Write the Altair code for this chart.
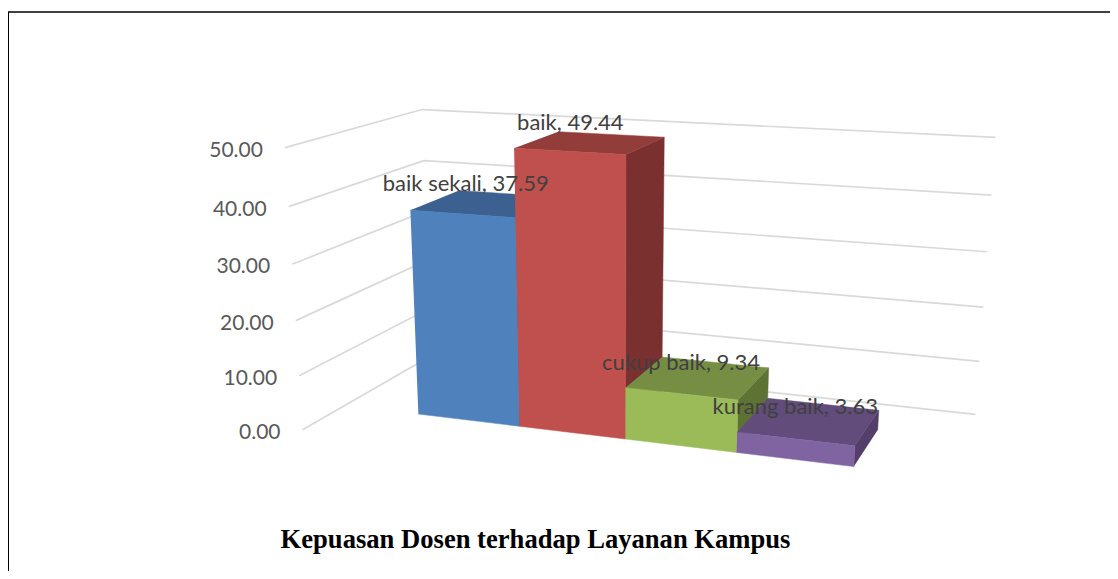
import numpy as np
import pandas as pd
import altair as alt

categories = ["baik sekali", "baik", "cukup baik", "kurang baik"]
values = [37.59, 49.44, 9.34, 3.63]
ticks = [0, 10, 20, 30, 40, 50]
tick_labels = ["0.00", "10.00", "20.00", "30.00", "40.00", "50.00"]
front = ["#4F81BD", "#C0504D", "#9BBB59", "#8064A2"]
top = ["#3C6190", "#933D3B", "#768E44", "#614C7B"]
side = ["#2F4C71", "#7B3030", "#5E7233", "#533F6A"]
title = "Kepuasan Dosen terhadap Layanan Kampus"

# calibration of the 3-D view: (category edge, value, depth) -> picture position
cal3d = [(0,0,0),(1,0,0),(2,0,0),(3,0,0),(4,0,0),(0,37.59,0),(1,49.44,0),(2,49.44,0),
         (2,9.34,0),(3,9.34,0),(3,3.63,0),(4,3.63,0),(0,37.59,1),(1,49.44,1),(2,49.44,1),
         (3,9.34,1),(4,3.63,1),(4,0,1)]
cal2d = [(418.7,414),(519.3,426.3),(625.3,439),(737,452.7),(853.7,467),(411.5,209),(514.3,148.3),(625,154),
         (625.3,387),(737.7,401),(737.3,433),(854.3,446),(456.7,191.7),(560,131.7),(664.3,137.7),
         (769,367.3),(878.7,410.7),(878,428.3)]

A = []; b = []
for (c, v, d), (x, y) in zip(cal3d, cal2d):
    A.append([c, v, d, 1, 0, 0, 0, 0, -x*c, -x*v, -x*d]); b.append(x)
    A.append([0, 0, 0, 0, c, v, d, 1, -y*c, -y*v, -y*d]); b.append(y)
sol = np.linalg.lstsq(np.array(A, float), np.array(b, float), rcond=None)[0]
P = np.append(sol, 1.0).reshape(3, 4)

def project(c, v, d):
    r = P @ np.array([c, v, d, 1.0])
    return float(r[0] / r[2]), float(r[1] / r[2])

def invert(x, y, v):
    M = np.array([[P[0,0]-x*P[2,0], P[0,2]-x*P[2,2]], [P[1,0]-y*P[2,0], P[1,2]-y*P[2,2]]])
    r = -np.array([P[0,1]*v+P[0,3]-x*(P[2,1]*v+P[2,3]), P[1,1]*v+P[1,3]-y*(P[2,1]*v+P[2,3])])
    return np.linalg.solve(M, r)

fl = [invert(302,431,0), invert(285.5,147,50)]
bl = [invert(429,357,0), invert(424,109,50)]
br = [invert(977,413,0), invert(994,138,50)]
c_lf = float(np.mean([p[0] for p in fl]))
c_lb = float(np.mean([p[0] for p in bl]))
c_r = float(np.mean([p[0] for p in br]))
d_f = float(np.mean([p[1] for p in fl]))
d_bl = float(np.mean([p[1] for p in bl]))
d_br = float(np.mean([p[1] for p in br]))

X = alt.X("x:Q", scale=alt.Scale(domain=[12, 1110], range=[0, 1098]), axis=None)
Y = alt.Y("y:Q", scale=alt.Scale(domain=[571, 12], range=[559, 0]), axis=None)

def poly(pts, color):
    df = pd.DataFrame([{"x": p[0], "y": p[1], "i": i} for i, p in enumerate(pts)])
    return alt.Chart(df).mark_line(fill=color, stroke=color, strokeWidth=0.5, clip=False).encode(
        x=X, y=Y, order=alt.Order("i:Q"))

layers = []
grid_rows = []
for t in ticks:
    for i, p in enumerate([(c_lf, t, d_f), (c_lb, t, d_bl), (c_r, t, d_br)]):
        x, y = project(*p)
        grid_rows.append({"x": x, "y": y, "i": i, "t": t})
layers.append(alt.Chart(pd.DataFrame(grid_rows)).mark_line(color="#D9D9D9", strokeWidth=1.7).encode(
    x=X, y=Y, detail="t:N", order=alt.Order("i:Q")))

for k, v in enumerate(values):
    l, r = k, k + 1
    layers.append(poly([project(r,0,0), project(r,v,0), project(r,v,1), project(r,0,1)], side[k]))
    layers.append(poly([project(l,v,0), project(r,v,0), project(r,v,1), project(l,v,1)], top[k]))
    layers.append(poly([project(l,0,0), project(r,0,0), project(r,v,0), project(l,v,0)], front[k]))

nudge = [(3.5, -30), (1, -28.5), (0, -31), (0, -32)]
lab = pd.DataFrame([{"x": project(k+0.5, v, 0)[0] + nudge[k][0], "y": project(k+0.5, v, 0)[1] + nudge[k][1],
                     "t": f"{categories[k]}, {v:.2f}"} for k, v in enumerate(values)])
layers.append(alt.Chart(lab).mark_text(font="Lato", fontSize=22, color="#404040", align="center", baseline="middle").encode(
    x=X, y=Y, text="t:N"))

tk = pd.DataFrame([{"x": project(c_lf, t, d_f)[0] - 22, "y": project(c_lf, t, d_f)[1] + 3, "t": s}
                   for t, s in zip(ticks, tick_labels)])
layers.append(alt.Chart(tk).mark_text(font="Lato", fontSize=21, color="#595959", align="right", baseline="middle").encode(
    x=X, y=Y, text="t:N"))

tt = pd.DataFrame([{"x": 535.5, "y": 539.5, "t": title}])
layers.append(alt.Chart(tt).mark_text(font="Liberation Serif", fontWeight="bold", fontSize=26.6, color="#000000", align="center", baseline="middle").encode(
    x=X, y=Y, text="t:N"))

frame_h = pd.DataFrame([{"x": 8, "x2": 1110, "y": 12}])
frame_v = pd.DataFrame([{"x": 8, "y": 12, "y2": 571}])
layers.append(alt.Chart(frame_h).mark_rule(color="#000000", strokeWidth=1.5).encode(x=X, x2="x2:Q", y=Y))
layers.append(alt.Chart(frame_v).mark_rule(color="#000000", strokeWidth=2).encode(x=X, y=Y, y2="y2:Q"))

chart = alt.layer(*layers).properties(
    width=1098, height=559, padding={"left": 4, "top": 4, "right": 0, "bottom": 0},
    background="#FFFFFF", autosize=alt.AutoSizeParams(type="none")
).configure_view(stroke=None)
chart.save("out.html", embed_options={"renderer": "svg", "actions": False})
